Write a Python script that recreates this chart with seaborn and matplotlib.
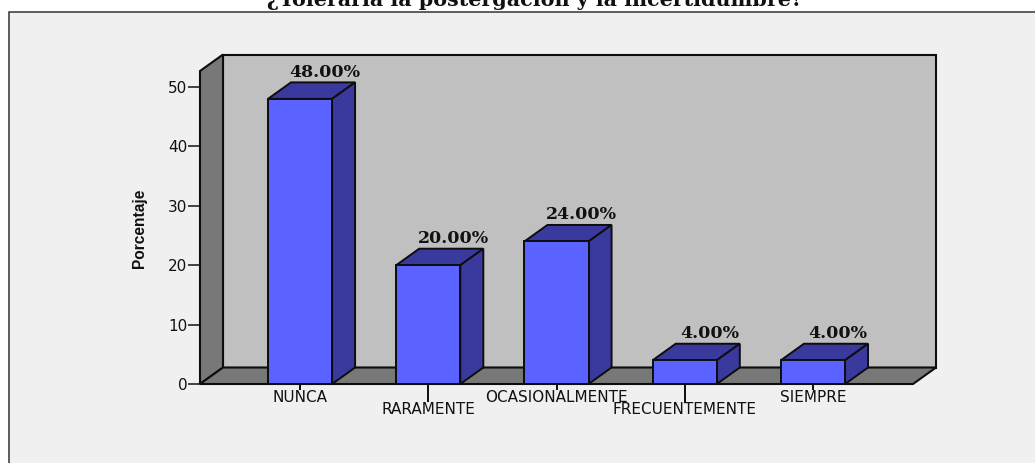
import matplotlib
matplotlib.use("Agg")
import matplotlib.pyplot as plt
from matplotlib.patches import Polygon, Rectangle
import pandas as pd
import seaborn as sns

categorias = ["NUNCA", "RARAMENTE", "OCASIONALMENTE", "FRECUENTEMENTE", "SIEMPRE"]
porcentajes = [48.0, 20.0, 24.0, 4.0, 4.0]
y_ticks = [0, 10, 20, 30, 40, 50]
titulo = "¿Toleraría la postergación y la incertidumbre?"
y_titulo = "Porcentaje"

W, H = 1035, 463
sns.set_theme(style="white")
plt.rcParams["font.family"] = ["DejaVu Sans"]

BLUE, DARK, SIDE, BACK, BG = "#5a63ff", "#3a3a9e", "#787878", "#c0c0c0", "#f0f0f0"
LINE = "#0d0d0d"

fig = plt.figure(figsize=(W / 100, H / 100), dpi=100, facecolor="white")
fig.add_artist(Rectangle((9 / W, -0.1), 1.1, 1.1 - 12.5 / H, transform=fig.transFigure,
                         fc=BG, ec="#333333", lw=1.1, clip_on=False, zorder=-1))

L, R, T, B = 200, 913, 71, 384
ax = fig.add_axes([L / W, 1 - B / H, (R - L) / W, (B - T) / H])
ax.patch.set_alpha(0)
for s in ax.spines.values():
    s.set_visible(False)

df = pd.DataFrame({"categoria": categorias, "porcentaje": porcentajes})
sns.barplot(data=df, x="categoria", y="porcentaje", color=BLUE, saturation=1,
            width=0.5, edgecolor=LINE, linewidth=1.4, ax=ax, zorder=3)

x0, x1 = -0.78, 4.78
y1 = (B - T) / 5.94
ax.set_xlim(x0, x1)
ax.set_ylim(0, y1)
dx = 23 / ((R - L) / (x1 - x0))
dy = 16.5 / 5.94


def poly(pts, fc, z=1, lw=1.5):
    ax.add_patch(Polygon(pts, closed=True, fc=fc, ec=LINE, lw=lw, zorder=z,
                         clip_on=False, joinstyle="miter"))


# walls and floor
poly([(x0 + dx, dy), (x1 + dx, dy), (x1 + dx, y1 + dy), (x0 + dx, y1 + dy)], BACK, 0.6)
poly([(x0, 0), (x0 + dx, dy), (x0 + dx, y1 + dy), (x0, y1)], SIDE, 0.7)
poly([(x0, 0), (x0 + dx, dy), (x1 + dx, dy), (x1, 0)], SIDE, 0.8)

# bar depth and labels
for i, v in enumerate(porcentajes):
    a, b = i - 0.25, i + 0.25
    poly([(a, v), (a + dx, v + dy), (b + dx, v + dy), (b, v)], DARK, 2.5, 1.4)
    poly([(b, 0), (b + dx, dy), (b + dx, v + dy), (b, v)], DARK, 2.5, 1.4)
    ax.annotate(f"{v:.2f}%", xy=(i, v + dy), xytext=(25 * 0.72, 5.5 * 0.72),
                textcoords="offset points", ha="center", va="baseline",
                family="DejaVu Serif", weight="bold", fontsize=12.5,
                color="#111111", annotation_clip=False, zorder=5)

ax.set_yticks(y_ticks, [str(t) for t in y_ticks])
ax.set_xticks([0, 2, 4], [categorias[i] for i in (0, 2, 4)])
ax.set_xticks([1, 3], [categorias[i] for i in (1, 3)], minor=True)
ax.tick_params(axis="y", left=True, length=8.6, width=1.3, color="#333333", pad=0.5,
               labelsize=11, labelcolor="#111111")
ax.tick_params(axis="x", which="major", bottom=True, length=4.3, width=1.4, color=LINE,
               pad=0, labelsize=11, labelcolor="#111111")
ax.tick_params(axis="x", which="minor", bottom=True, length=13, width=1.4, color=LINE,
               pad=0, labelsize=11, labelcolor="#111111")
ax.set_xlabel("")
ax.set_ylabel(y_titulo, family=["Liberation Sans Narrow", "Liberation Sans"],
              weight="bold", fontsize=11.2, color="#111111", va="center")
ax.yaxis.set_label_coords((139 - L) / (R - L), (B - 228) / (B - T))

fig.text(535 / W, 1 - 6 / H, titulo, ha="center", va="baseline",
         family="DejaVu Serif", weight="bold", fontsize=14.9, color="#111111")

fig.savefig("out.png", dpi=100, facecolor="white")
